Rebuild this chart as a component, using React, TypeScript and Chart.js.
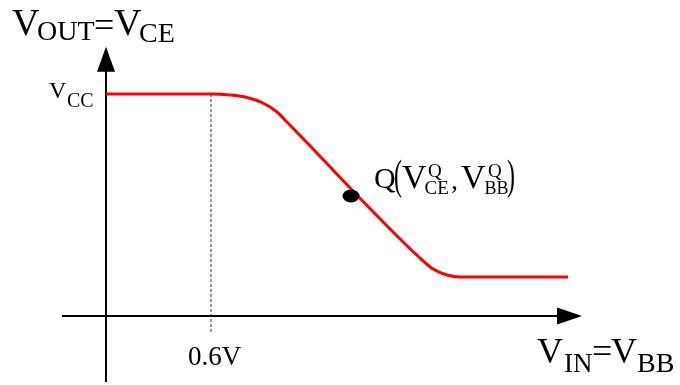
import { useEffect, useRef } from "react";
import { Chart, registerables } from "chart.js";

Chart.register(...registerables);

// Transfer characteristic of a common-emitter stage: V_IN = V_BB against V_OUT = V_CE
const VCC = 5;
const V_THRESHOLD = 0.6;
const vinValues = [0, 0.6, 0.709, 0.806, 0.897, 0.977, 1.034, 1.794, 1.869, 1.949, 2.023, 2.64];
const voutValues = [VCC, VCC, 4.977, 4.921, 4.797, 4.595, 4.369, 1.306, 1.059, 0.923, 0.878, 0.878];

// Operating point Q
const qVin = [1.4];
const qVout = [2.703];

// Axis extents (value units)
const xAxisFrom = -0.251;
const xAxisTip = 2.72;
const yAxisFrom = -1.486;
const yAxisTip = 6.065;
const thresholdBottom = -0.36;

// Visible window of the plane
const X_MIN = -0.6057;
const X_MAX = 3.28;
const Y_MIN = -1.554;
const Y_MAX = 7.117;

const SERIF = "'Liberation Serif', 'Times New Roman', serif";

type Piece = { t: string; x: number; y: number; size: number; sx?: number; sy?: number };

const labelPieces: Piece[] = [
  // V_OUT = V_CE
  { t: "V", x: 12, y: 35, size: 38 },
  { t: "OUT", x: 37, y: 40, size: 28 },
  { t: "=", x: 94, y: 37, size: 36 },
  { t: "V", x: 114, y: 35, size: 38 },
  { t: "CE", x: 139, y: 41.5, size: 28 },
  // V_CC
  { t: "V", x: 49, y: 98, size: 24 },
  { t: "CC", x: 67, y: 107, size: 20 },
  // 0.6V
  { t: "0.6V", x: 188, y: 365, size: 27 },
  // V_IN = V_BB
  { t: "V", x: 537, y: 363, size: 36 },
  { t: "IN", x: 564, y: 371.5, size: 27 },
  { t: "=", x: 592, y: 363, size: 36 },
  { t: "V", x: 611, y: 363, size: 36 },
  { t: "BB", x: 637, y: 371.5, size: 28 },
  // Q(V_CE^Q , V_BB^Q)
  { t: "Q", x: 374, y: 188, size: 30 },
  { t: "(", x: 394, y: 189, size: 32, sx: 0.75, sy: 1.35 },
  { t: "V", x: 402, y: 188, size: 34 },
  { t: "Q", x: 428, y: 177, size: 19 },
  { t: "CE", x: 424.5, y: 193.5, size: 19 },
  { t: ",", x: 451, y: 189, size: 28 },
  { t: "V", x: 461, y: 188, size: 34 },
  { t: "Q", x: 488, y: 177, size: 19 },
  { t: "BB", x: 484.5, y: 193.5, size: 18 },
  { t: ")", x: 507, y: 189, size: 32, sx: 0.75, sy: 1.35 },
];

function makeDot(): HTMLCanvasElement {
  const c = document.createElement("canvas");
  c.width = 18;
  c.height = 14;
  const g = c.getContext("2d")!;
  g.fillStyle = "#000";
  g.beginPath();
  g.ellipse(9, 7, 8.5, 6.5, 0, 0, Math.PI * 2);
  g.fill();
  return c;
}

const decorations = {
  id: "decorations",
  afterDatasetsDraw(chart: Chart) {
    const ctx = chart.ctx;
    const xs = chart.scales.x;
    const ys = chart.scales.y;
    ctx.save();
    ctx.fillStyle = "#000";

    // arrowhead on the vertical axis
    const ax = xs.getPixelForValue(0);
    const ay = ys.getPixelForValue(yAxisTip);
    ctx.beginPath();
    ctx.moveTo(ax, ay);
    ctx.lineTo(ax - 9, ay + 25);
    ctx.lineTo(ax + 9, ay + 25);
    ctx.closePath();
    ctx.fill();

    // arrowhead on the horizontal axis
    const bx = xs.getPixelForValue(xAxisTip);
    const by = ys.getPixelForValue(0);
    ctx.beginPath();
    ctx.moveTo(bx, by);
    ctx.lineTo(bx - 25, by - 8.5);
    ctx.lineTo(bx - 25, by + 8.5);
    ctx.closePath();
    ctx.fill();

    ctx.textBaseline = "alphabetic";
    ctx.textAlign = "left";
    for (const p of labelPieces) {
      ctx.save();
      ctx.translate(p.x, p.y);
      ctx.scale(p.sx ?? 1, p.sy ?? 1);
      ctx.font = `${p.size}px ${SERIF}`;
      ctx.fillText(p.t, 0, 0);
      ctx.restore();
    }
    ctx.restore();
  },
};

export default function App() {
  const ref = useRef<HTMLCanvasElement | null>(null);

  useEffect(() => {
    if (!ref.current) return;
    const curve = vinValues.map((v, i) => ({ x: v, y: voutValues[i] }));
    const chart = new Chart(ref.current, {
      type: "scatter",
      data: {
        datasets: [
          {
            label: "Q",
            data: qVin.map((v, i) => ({ x: v, y: qVout[i] })),
            pointStyle: makeDot(),
            pointRadius: 7,
            showLine: false,
            order: 0,
          },
          {
            label: "V_CE",
            data: curve,
            showLine: true,
            borderColor: "#ff0000",
            borderWidth: 3,
            pointRadius: 0,
            cubicInterpolationMode: "monotone",
            borderJoinStyle: "round",
            order: 1,
          },
          {
            label: "threshold",
            data: [
              { x: V_THRESHOLD, y: VCC },
              { x: V_THRESHOLD, y: thresholdBottom },
            ],
            showLine: true,
            borderColor: "#333",
            borderWidth: 1,
            borderDash: [3, 2],
            pointRadius: 0,
            order: 3,
          },
          {
            label: "x-axis",
            data: [
              { x: xAxisFrom, y: 0 },
              { x: xAxisTip - 0.1, y: 0 },
            ],
            showLine: true,
            borderColor: "#000",
            borderWidth: 2,
            pointRadius: 0,
            order: 2,
          },
          {
            label: "y-axis",
            data: [
              { x: 0, y: yAxisFrom },
              { x: 0, y: yAxisTip - 0.4 },
            ],
            showLine: true,
            borderColor: "#000",
            borderWidth: 2,
            pointRadius: 0,
            order: 2,
          },
        ],
      },
      options: {
        responsive: false,
        animation: false,
        devicePixelRatio: 1,
        events: [],
        layout: { padding: 0, autoPadding: false },
        plugins: { legend: { display: false }, tooltip: { enabled: false } },
        scales: {
          x: { type: "linear", display: false, min: X_MIN, max: X_MAX },
          y: { type: "linear", display: false, min: Y_MIN, max: Y_MAX },
        },
      },
      plugins: [decorations],
    });
    return () => chart.destroy();
  }, []);

  return (
    <div style={{ position: "fixed", left: 0, top: 0, width: 680, height: 385, background: "#fff" }}>
      <canvas ref={ref} width={680} height={385} />
    </div>
  );
}
